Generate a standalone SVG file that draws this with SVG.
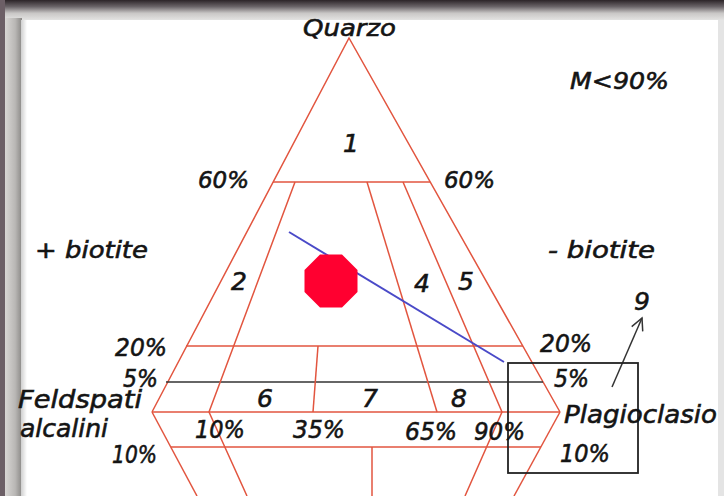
<svg xmlns="http://www.w3.org/2000/svg" width="724" height="496" viewBox="0 0 724 496">
<defs>
<linearGradient id="gTop" x1="0" y1="0" x2="0" y2="1">
<stop offset="0" stop-color="#2c2428"/>
<stop offset="0.3" stop-color="#6a6468"/>
<stop offset="0.6" stop-color="#c9c7c6"/>
<stop offset="1" stop-color="#ebebea"/>
</linearGradient>
<linearGradient id="gLeft" x1="0" y1="0" x2="1" y2="0">
<stop offset="0" stop-color="#d8d6d4"/>
<stop offset="0.6" stop-color="#b9b7b5"/>
<stop offset="1" stop-color="#8a8886"/>
</linearGradient>
<linearGradient id="gShadow" x1="0" y1="0" x2="1" y2="0">
<stop offset="0" stop-color="#cfcfcf"/>
<stop offset="1" stop-color="#ffffff"/>
</linearGradient>
<marker id="arr" markerWidth="16" markerHeight="16" refX="13" refY="8" orient="auto" markerUnits="userSpaceOnUse">
<path d="M1,2 L13,8 L1,14" fill="none" stroke="#333" stroke-width="1.5"/>
</marker>
<style>
.red{stroke:#e2553f;stroke-width:1.5;fill:none}
.blk{stroke:#333;stroke-width:1.3;fill:none}
text{font-family:"DejaVu Sans","Liberation Sans",sans-serif;font-style:italic;fill:#141414;stroke:#141414;stroke-width:0.6;font-size:23px}
.md{font-size:23px}
.lg{font-size:25px}
</style>
</defs>
<g id="frame">
<rect x="0" y="0" width="724" height="496" fill="#6c5f66"/>
<rect x="5" y="0" width="719" height="22" fill="url(#gTop)"/>
<rect x="5" y="18" width="17" height="478" fill="url(#gLeft)"/>
<rect x="21" y="20" width="698" height="476" fill="#ffffff"/>
<rect x="21" y="20" width="6" height="476" fill="url(#gShadow)"/>
<rect x="718" y="20" width="6" height="476" fill="#e4e4e4"/>
</g>
<g id="connectors">
<polyline class="red" points="152,412 349,38 560,412"/>
<line class="red" x1="273" y1="182" x2="430" y2="182"/>
<line class="red" x1="186" y1="346" x2="523" y2="346"/>
<line class="blk" x1="166" y1="382" x2="543" y2="382"/>
<line class="red" x1="152" y1="412" x2="560" y2="412"/>
<line class="red" x1="171" y1="447" x2="541" y2="447"/>
<line class="red" x1="152" y1="412" x2="197" y2="496"/>
<line class="red" x1="560" y1="412" x2="514" y2="496"/>
<polyline class="red" points="295,182 209,412 247,496"/>
<line class="red" x1="318" y1="346" x2="313" y2="412"/>
<line class="red" x1="367" y1="182" x2="437" y2="412"/>
<polyline class="red" points="403,182 502,412 465,496"/>
<line class="red" x1="372" y1="447" x2="372" y2="496"/>
<line x1="289" y1="232" x2="504" y2="362" stroke="#4a4ac8" stroke-width="2"/>
<line x1="612" y1="387" x2="642" y2="318" stroke="#333" stroke-width="1.5" marker-end="url(#arr)"/>
</g>
<g id="marker-point">
<polygon points="357.5,270 342,254.5 320,254.5 304.5,270 304.5,292 320,307.5 342,307.5 357.5,292" fill="#ff0030"/>
</g>
<g id="box-9">
<rect x="508" y="363" width="130" height="110" fill="none" stroke="#222" stroke-width="1.8"/>
</g>
<g id="labels">
<text x="303" y="36" class="md" textLength="93" lengthAdjust="spacingAndGlyphs">Quarzo</text>
<text x="570" y="89" class="md" textLength="99" lengthAdjust="spacingAndGlyphs">M&lt;90%</text>
<text x="343" y="152" class="lg">1</text>
<text x="198" y="188" class="md" textLength="51" lengthAdjust="spacingAndGlyphs">60%</text>
<text x="444" y="188" class="md" textLength="51" lengthAdjust="spacingAndGlyphs">60%</text>
<text x="35" y="258" class="md" textLength="113" lengthAdjust="spacingAndGlyphs">+ biotite</text>
<text x="548" y="258" class="md" textLength="107" lengthAdjust="spacingAndGlyphs">- biotite</text>
<text x="231" y="290" class="lg">2</text>
<text x="414" y="292" class="lg">4</text>
<text x="458" y="290" class="lg">5</text>
<text x="634" y="310" class="lg">9</text>
<text x="115" y="356" class="lg" textLength="52" lengthAdjust="spacingAndGlyphs">20%</text>
<text x="123" y="387" class="lg" textLength="35" lengthAdjust="spacingAndGlyphs">5%</text>
<text x="18" y="408" class="lg" textLength="124" lengthAdjust="spacingAndGlyphs">Feldspati</text>
<text x="20" y="437" class="lg" textLength="88" lengthAdjust="spacingAndGlyphs">alcalini</text>
<text x="112" y="463" class="lg" textLength="45" lengthAdjust="spacingAndGlyphs">10%</text>
<text x="257" y="407" class="lg">6</text>
<text x="362" y="407" class="lg">7</text>
<text x="451" y="407" class="lg">8</text>
<text x="195" y="438" class="lg" textLength="50" lengthAdjust="spacingAndGlyphs">10%</text>
<text x="293" y="438" class="lg" textLength="52" lengthAdjust="spacingAndGlyphs">35%</text>
<text x="405" y="440" class="lg" textLength="52" lengthAdjust="spacingAndGlyphs">65%</text>
<text x="474" y="440" class="lg" textLength="51" lengthAdjust="spacingAndGlyphs">90%</text>
<text x="540" y="352" class="lg" textLength="52" lengthAdjust="spacingAndGlyphs">20%</text>
<text x="554" y="387" class="lg" textLength="35" lengthAdjust="spacingAndGlyphs">5%</text>
<text x="564" y="423" class="lg" textLength="153" lengthAdjust="spacingAndGlyphs">Plagioclasio</text>
<text x="560" y="462" class="lg" textLength="50" lengthAdjust="spacingAndGlyphs">10%</text>
</g>
</svg>
